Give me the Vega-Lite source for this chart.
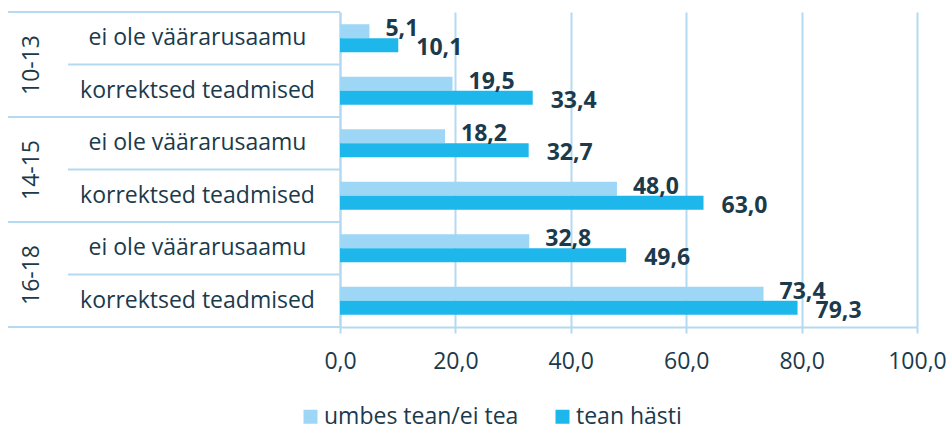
{
  "$schema": "https://vega.github.io/schema/vega-lite/v6.json",
  "width": 577,
  "height": 315,
  "autosize": {"type": "none"},
  "padding": {"left": 340, "top": 12, "right": 32, "bottom": 107},
  "background": "white",
  "config": {
    "locale": {"number": {"decimal": ",", "thousands": " ", "grouping": [3], "currency": ["", " €"]}},
    "font": "Open Sans",
    "view": {"stroke": null},
    "axis": {"labelFont": "Open Sans", "labelColor": "#1b3a4b", "labelFontSize": 23, "title": null}
  },
  "data": {
    "values": [
      {"row": "10-13|ei ole väärarusaamu", "group": "10-13", "series": "umbes tean/ei tea", "value": 5.1},
      {"row": "10-13|ei ole väärarusaamu", "group": "10-13", "series": "tean hästi", "value": 10.1},
      {"row": "10-13|korrektsed teadmised", "group": "10-13", "series": "umbes tean/ei tea", "value": 19.5},
      {"row": "10-13|korrektsed teadmised", "group": "10-13", "series": "tean hästi", "value": 33.4},
      {"row": "14-15|ei ole väärarusaamu", "group": "14-15", "series": "umbes tean/ei tea", "value": 18.2},
      {"row": "14-15|ei ole väärarusaamu", "group": "14-15", "series": "tean hästi", "value": 32.7},
      {"row": "14-15|korrektsed teadmised", "group": "14-15", "series": "umbes tean/ei tea", "value": 48.0},
      {"row": "14-15|korrektsed teadmised", "group": "14-15", "series": "tean hästi", "value": 63.0},
      {"row": "16-18|ei ole väärarusaamu", "group": "16-18", "series": "umbes tean/ei tea", "value": 32.8},
      {"row": "16-18|ei ole väärarusaamu", "group": "16-18", "series": "tean hästi", "value": 49.6},
      {"row": "16-18|korrektsed teadmised", "group": "16-18", "series": "umbes tean/ei tea", "value": 73.4},
      {"row": "16-18|korrektsed teadmised", "group": "16-18", "series": "tean hästi", "value": 79.3}
    ]
  },
  "resolve": {"scale": {"y": "independent"}},
  "layer": [
    {
      "encoding": {
        "y": {
          "field": "row", "type": "nominal",
          "scale": {
            "domain": ["10-13|ei ole väärarusaamu", "10-13|korrektsed teadmised", "14-15|ei ole väärarusaamu", "14-15|korrektsed teadmised", "16-18|ei ole väärarusaamu", "16-18|korrektsed teadmised"],
            "paddingInner": 0, "paddingOuter": 0
          },
          "axis": {
            "orient": "left",
            "ticks": false,
            "domainColor": "#b3daf1",
            "domainWidth": 2,
            "labelExpr": "split(datum.value, '|')[1]",
            "labelAlign": "center",
            "labelBaseline": "middle",
            "labelPadding": 143,
            "labelLimit": 400
          }
        }
      },
      "layer": [
        {
          "transform": [{"filter": "datum.series === 'tean hästi'"}],
          "mark": {"type": "rule", "color": "#b3daf1", "strokeWidth": 2},
          "encoding": {
            "y": {"field": "row", "type": "nominal", "bandPosition": 0},
            "x": {"datum": -47.14},
            "x2": {"datum": 0}
          }
        },
        {
          "transform": [{"filter": "datum.series === 'tean hästi' && indexof(datum.row, 'ei ole') >= 0"}],
          "mark": {"type": "rule", "color": "#b3daf1", "strokeWidth": 2},
          "encoding": {
            "y": {"field": "row", "type": "nominal", "bandPosition": 0},
            "x": {"datum": -57.54},
            "x2": {"datum": 0}
          }
        },
        {
          "transform": [{"filter": "datum.series === 'tean hästi' && datum.row === '16-18|korrektsed teadmised'"}],
          "mark": {"type": "rule", "color": "#b3daf1", "strokeWidth": 2},
          "encoding": {
            "y": {"field": "row", "type": "nominal", "bandPosition": 1},
            "x": {"datum": -57.54},
            "x2": {"datum": 0}
          }
        },
        {
          "mark": {"type": "bar"},
          "encoding": {
            "x": {
              "field": "value", "type": "quantitative",
              "scale": {"domain": [0, 100], "nice": false},
              "axis": {
                "values": [0, 20, 40, 60, 80, 100],
                "format": ".1f",
                "grid": true,
                "gridColor": "#b3daf1",
                "gridWidth": 2,
                "domainColor": "#b3daf1",
                "domainWidth": 2,
                "tickColor": "#b3daf1",
                "tickWidth": 2,
                "tickSize": 6,
                "labelPadding": 17,
                "labelFlush": false
              }
            },
            "yOffset": {
              "field": "series", "type": "nominal",
              "scale": {"domain": ["umbes tean/ei tea", "tean hästi"], "paddingInner": 0, "paddingOuter": 0.875}
            },
            "color": {
              "field": "series", "type": "nominal",
              "scale": {"domain": ["umbes tean/ei tea", "tean hästi"], "range": ["#9dd7f5", "#1db7eb"]},
              "legend": {
                "title": null,
                "orient": "none",
                "direction": "horizontal",
                "legendX": -41,
                "legendY": 393,
                "padding": 0,
                "symbolType": "square",
                "symbolSize": 196,
                "symbolStrokeWidth": 0,
                "labelFont": "Open Sans",
                "labelFontSize": 23,
                "labelColor": "#1b3a4b",
                "labelOffset": 2,
                "columnPadding": 32,
                "labelLimit": 400
              }
            }
          }
        },
        {
          "transform": [{"filter": "datum.series === 'umbes tean/ei tea'"}],
          "mark": {"type": "text", "align": "left", "baseline": "middle", "dx": 16, "dy": -2, "font": "Open Sans", "fontSize": 23, "fontWeight": "bold", "color": "#1b3a4b"},
          "encoding": {
            "x": {"field": "value", "type": "quantitative"},
            "yOffset": {"field": "series", "type": "nominal", "scale": {"domain": ["umbes tean/ei tea", "tean hästi"], "paddingInner": 0, "paddingOuter": 0.875}},
            "text": {"field": "value", "type": "quantitative", "format": ".1f"}
          }
        },
        {
          "transform": [{"filter": "datum.series === 'tean hästi'"}],
          "mark": {"type": "text", "align": "left", "baseline": "middle", "dx": 18, "dy": 3, "font": "Open Sans", "fontSize": 23, "fontWeight": "bold", "color": "#1b3a4b"},
          "encoding": {
            "x": {"field": "value", "type": "quantitative"},
            "yOffset": {"field": "series", "type": "nominal", "scale": {"domain": ["umbes tean/ei tea", "tean hästi"], "paddingInner": 0, "paddingOuter": 0.875}},
            "text": {"field": "value", "type": "quantitative", "format": ".1f"}
          }
        }
      ]
    },
    {
      "mark": {"type": "point", "opacity": 0},
      "encoding": {
        "y": {
          "field": "group", "type": "nominal",
          "scale": {"domain": ["10-13", "14-15", "16-18"], "paddingInner": 0, "paddingOuter": 0},
          "axis": {
            "orient": "left",
            "ticks": false,
            "domain": false,
            "labelAngle": -90,
            "labelAlign": "center",
            "labelBaseline": "middle",
            "labelPadding": 309
          }
        }
      }
    }
  ]
}
